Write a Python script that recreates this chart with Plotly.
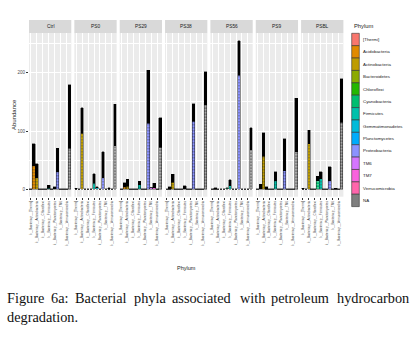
import plotly.graph_objects as go

W, H = 417, 345

# ---------------- data ----------------
samples = ["Ctrl", "PS0", "PS29", "PS38", "PS56", "PS9", "PSBL"]
phyla = ["[Thermi]", "Acidobacteria", "Actinobacteria", "Bacteroidetes", "Chloroflexi",
         "Cyanobacteria", "Firmicutes", "Gemmatimonadetes", "Planctomycetes",
         "Proteobacteria", "TM6", "TM7", "Verrucomicrobia", "NA"]
tick_labels = ["k__Bacteria;p__" + p for p in phyla]
phylum_colors = ["#F8766D", "#E18A00", "#BE9C00", "#8CAB00", "#24B700", "#00BE70", "#00C1AB",
                 "#00BBDA", "#00ACFC", "#8B93FF", "#D575FE", "#F962DD", "#FF65AC", "#7F7F7F"]

# total abundance per phylum (bar height)
ctrl_total = [1, 78, 44, 1, 1, 1, 7, 1, 4, 70, 1, 1, 1, 179]
ps0_total  = [1.5, 1, 140, 1, 1, 1, 27, 4, 1, 64, 1, 2.5, 1, 146]
ps29_total = [1, 11, 17, 1, 1, 1, 14, 1, 1, 204, 3, 10, 1, 123]
ps38_total = [1, 4, 26, 1, 1, 1, 6, 1, 1, 147, 1, 1, 1, 202]
ps56_total = [1, 2.5, 1, 1, 1, 3, 16, 1, 1, 255, 1, 1, 1, 106]
ps9_total  = [1, 9, 97, 4, 1, 1, 30, 1, 1, 87, 1, 1, 1, 156]
psbl_total = [2, 1, 101, 1, 1, 22, 30, 1, 1, 39, 1, 2, 1, 190]

# abundance held by the larger OTUs (coloured, striped part of each bar)
ctrl_major = [0, 40, 20, 0, 0, 0, 2, 0, 1, 30, 0, 0, 0, 70]
ps0_major  = [0, 0, 96, 0, 0, 0, 10, 3, 0, 20, 0, 0.5, 0, 75]
ps29_major = [0, 4, 5, 0, 0, 0, 8, 0, 0, 113, 2.5, 3, 0, 72]
ps38_major = [0, 0.5, 12, 0, 0, 0, 1, 0, 0, 117, 0, 0, 0, 145]
ps56_major = [0, 0, 0, 0, 0, 2, 6, 0, 0, 196, 0, 0, 0, 68]
ps9_major  = [0, 1, 57, 0.5, 0, 0, 15, 0, 0, 32, 0, 0, 0, 64]
psbl_major = [0.5, 0, 78, 0, 0, 15, 18, 0, 0, 15, 0, 0, 0, 115]

totals = [ctrl_total, ps0_total, ps29_total, ps38_total, ps56_total, ps9_total, psbl_total]
majors = [ctrl_major, ps0_major, ps29_major, ps38_major, ps56_major, ps9_major, psbl_major]

y_ticks = [0, 100, 200]

# ---------------- layout geometry (pixels) ----------------
panel_left0 = 29.0
panel_step = 45.35
panel_w = 42.3
panel_top, panel_bot = 33.3, 196.7
strip_top = 20.0

def fx(px):
    return px / W

def fy(py):
    return 1 - py / H

fig = go.Figure()
shapes = []
annotations = []
layout_axes = {}

for i, s in enumerate(samples):
    n = "" if i == 0 else str(i + 1)
    xa, ya = "x" + n, "y" + n
    minor_part = [t - m for t, m in zip(totals[i], majors[i])]
    fig.add_trace(go.Bar(
        x=tick_labels, y=majors[i], xaxis=xa, yaxis=ya, width=0.9, showlegend=False,
        marker=dict(color=phylum_colors, line=dict(color="black", width=0.4),
                    pattern=dict(shape="-", fgcolor="black", size=3, solidity=0.3)),
        hoverinfo="skip"))
    fig.add_trace(go.Bar(
        x=tick_labels, y=minor_part, xaxis=xa, yaxis=ya, width=0.9, showlegend=False,
        marker=dict(color="black", line=dict(color="black", width=0.4)),
        hoverinfo="skip"))

    left = panel_left0 + i * panel_step
    right = left + panel_w
    layout_axes["xaxis" + n] = dict(
        domain=[fx(left), fx(right)], anchor=ya, type="category",
        categoryorder="array", categoryarray=tick_labels,
        range=[-0.6, len(tick_labels) - 0.4],
        showgrid=True, gridcolor="white", gridwidth=0.5,
        ticks="outside", ticklen=2, tickwidth=0.4, tickcolor="#333333",
        tickangle=-90, tickfont=dict(size=3.1, color="#4D4D4D", family="Liberation Sans"),
        showline=False, zeroline=False, fixedrange=True)
    layout_axes["yaxis" + n] = dict(
        domain=[fy(panel_bot), fy(panel_top)], anchor=xa,
        range=[-12.7, 267.6], tickvals=y_ticks,
        showgrid=True, gridcolor="white", gridwidth=0.6,
        minor=dict(dtick=50, tick0=0, showgrid=True, gridcolor="white", gridwidth=0.3),
        showticklabels=(i == 0), ticks="outside" if i == 0 else "",
        ticklen=2, tickwidth=0.4, tickcolor="#333333",
        tickfont=dict(size=4.5, color="#4D4D4D", family="Liberation Sans"),
        zeroline=False, showline=False, fixedrange=True)
    if i > 0:
        layout_axes["yaxis" + n]["matches"] = "y"

    # facet strip
    shapes.append(dict(type="rect", xref="paper", yref="paper",
                       x0=fx(left), x1=fx(right), y0=fy(panel_top), y1=fy(strip_top),
                       fillcolor="#D9D9D9", line=dict(width=0), layer="below"))
    annotations.append(dict(text=s, xref="paper", yref="paper",
                            x=fx((left + right) / 2), y=fy((panel_top + strip_top) / 2),
                            showarrow=False, xanchor="center", yanchor="middle",
                            font=dict(size=4.8, color="#1A1A1A", family="Liberation Sans")))

# axis titles
annotations.append(dict(text="Abundance", xref="paper", yref="paper", x=fx(14), y=fy(115),
                        textangle=-90, showarrow=False, xanchor="center", yanchor="middle",
                        font=dict(size=6, color="#1A1A1A", family="Liberation Sans")))
annotations.append(dict(text="Phylum", xref="paper", yref="paper", x=fx(186), y=fy(268),
                        showarrow=False, xanchor="center", yanchor="middle",
                        font=dict(size=5.5, color="#1A1A1A", family="Liberation Sans")))

# legend (drawn as keys + labels)
leg_x0, leg_x1, leg_top, leg_step = 351.7, 359.3, 33.3, 12.38
annotations.append(dict(text="Phylum", xref="paper", yref="paper", x=fx(leg_x0), y=fy(26.5),
                        showarrow=False, xanchor="left", yanchor="middle",
                        font=dict(size=5.8, color="#1A1A1A", family="Liberation Sans")))
for k, (p, c) in enumerate(zip(phyla, phylum_colors)):
    t = leg_top + k * leg_step
    shapes.append(dict(type="rect", xref="paper", yref="paper",
                       x0=fx(leg_x0), x1=fx(leg_x1), y0=fy(t + leg_step), y1=fy(t),
                       fillcolor=c, line=dict(color="#333333", width=0.6)))
    annotations.append(dict(text=p, xref="paper", yref="paper", x=fx(leg_x1 + 1.8),
                            y=fy(t + leg_step / 2), showarrow=False, xanchor="left",
                            yanchor="middle",
                            font=dict(size=4.4, color="#1A1A1A", family="Liberation Sans")))

# caption (justified first line)
cap_font = dict(size=14.3, color="#111111", family="Liberation Serif")
line1 = [("Figure", 5), ("6a:", 49.3), ("Bacterial", 72.5), ("phyla", 132), ("associated", 170.4),
         ("with", 237.5), ("petroleum", 269.1), ("hydrocarbon", 335.3)]
for word, px in line1:
    annotations.append(dict(text=word, xref="paper", yref="paper", x=fx(px), y=fy(298),
                            showarrow=False, xanchor="left", yanchor="middle", font=cap_font))
annotations.append(dict(text="degradation.", xref="paper", yref="paper", x=fx(5), y=fy(317),
                        showarrow=False, xanchor="left", yanchor="middle", font=cap_font))

fig.update_layout(
    width=W, height=H, autosize=False,
    margin=dict(l=0, r=0, t=0, b=0),
    paper_bgcolor="white", plot_bgcolor="#EBEBEB",
    barmode="stack", bargap=0.1, showlegend=False,
    shapes=shapes, annotations=annotations,
    font=dict(family="Liberation Sans"),
    **layout_axes)

fig.write_html("out.html", config={"displayModeBar": False},
               post_script="document.body.style.margin='0';")
